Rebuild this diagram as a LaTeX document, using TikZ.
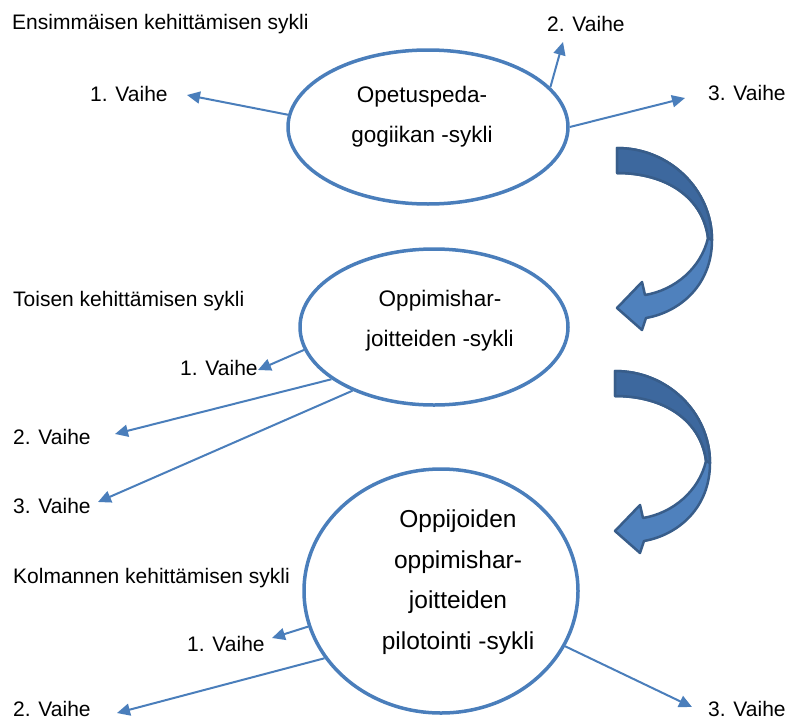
\documentclass[tikz,border=0pt]{standalone}
\usepackage{fontspec}
\setmainfont{Liberation Sans}
\usetikzlibrary{arrows.meta,shapes.geometric}
\definecolor{ringblue}{RGB}{74,126,187}
\definecolor{bandfill}{RGB}{79,129,189}
\definecolor{banddark}{RGB}{61,104,158}
\definecolor{bandline}{RGB}{56,93,138}
\def\bentarrow(#1,#2){%
	\begin{scope}[shift={(#1,#2)}]
		\draw[line width=2.5pt, color=bandline, fill=bandfill, line join=round] (0,0) .. controls (53,0) and (95,42) .. (95,92) .. controls (95,137) and (63,164) .. (29,170) -- (25,182) -- (0,160) -- (25,134) -- (28,147) .. controls (58,142) and (84,120) .. (91,90) .. controls (86,50) and (50,25) .. (0,25) -- cycle;
		\draw[line width=2.5pt, color=bandline, fill=banddark, line join=round] (0,0) .. controls (53,0) and (95,42) .. (95,92) -- (91,90) .. controls (86,50) and (50,25) .. (0,25) -- cycle;
	\end{scope}}

\begin{document}
\begin{tikzpicture}[x=1pt, y=-1pt,
	ring/.style={ellipse, draw=ringblue, line width=3.5pt, inner sep=0pt},
	ringtext/.style={align=center, inner sep=0pt, font=\fontsize{22.5}{40}\selectfont},
	phase/.style={anchor=base west, inner sep=0pt, font=\fontsize{21}{25}\selectfont},
	phasearrow/.style={color=ringblue, line width=2pt, -{Triangle[length=13pt,width=12pt]}}]
		%%%%% START %%%%%
		\useasboundingbox (0,0) rectangle (789,720);
		
		% ensimmainen sykli
		\node[ring, minimum width=280pt, minimum height=154pt] (opetus) at (428,127) {};
		\node[ringtext] (opetusteksti) at (422,117) {Opetuspeda-\\gogiikan -sykli};
		\node[phase] (sykli1) at (12,29) {Ensimmäisen kehittämisen sykli};
		\node[phase] (v11) at (90,101) {1. Vaihe};
		\node[phase] (v12) at (547,31) {2. Vaihe};
		\node[phase] (v13) at (708,100) {3. Vaihe};
		\coordinate (t11) at (187,95);
		\coordinate (t12) at (563,42);
		\coordinate (t13) at (685,98);
		\draw[phasearrow] (opetus.175) -- (t11);
		\draw[phasearrow] (opetus.18) -- (t12);
		\draw[phasearrow] (opetus.0) -- (t13);
		
		% toinen sykli
		\node[ring, minimum width=268pt, minimum height=156pt] (oppimis) at (434,327) {};
		\node[ringtext] (oppimisteksti) at (440,321) {Oppimishar-\\joitteiden -sykli};
		\node[phase] (sykli2) at (13,306) {Toisen kehittämisen sykli};
		\node[phase] (v21) at (180,375) {1. Vaihe};
		\node[phase] (v22) at (13,444) {2. Vaihe};
		\node[phase] (v23) at (13,513) {3. Vaihe};
		\coordinate (t21) at (258,370);
		\coordinate (t22) at (115,434);
		\coordinate (t23) at (98,502);
		\draw[phasearrow] (oppimis.190) -- (t21);
		\draw[phasearrow] (oppimis.207) -- (t22);
		\draw[phasearrow] (oppimis.218) -- (t23);
		
		% kolmas sykli
		\node[ring, minimum width=274pt, minimum height=244pt] (pilotointi) at (441,591) {};
		\node[ringtext, font=\fontsize{24.5}{40.5}\selectfont] (pilotointiteksti) at (458,582) {Oppijoiden\\oppimishar-\\joitteiden\\pilotointi -sykli};
		\node[phase] (sykli3) at (13,583) {Kolmannen kehittämisen sykli};
		\node[phase] (v31) at (187,651) {1. Vaihe};
		\node[phase] (v32) at (13,716) {2. Vaihe};
		\node[phase] (v33) at (708,716) {3. Vaihe};
		\coordinate (t31) at (272,638);
		\coordinate (t32) at (117,713);
		\coordinate (t33) at (692,707);
		\draw[phasearrow] (pilotointi.195) -- (t31);
		\draw[phasearrow] (pilotointi.210) -- (t32);
		\draw[phasearrow] (pilotointi.-24) -- (t33);
		
		% kaarinuolet
		\bentarrow(617,148)
		\bentarrow(615,371)
		%%%%% END %%%%%
\end{tikzpicture}
\end{document}
